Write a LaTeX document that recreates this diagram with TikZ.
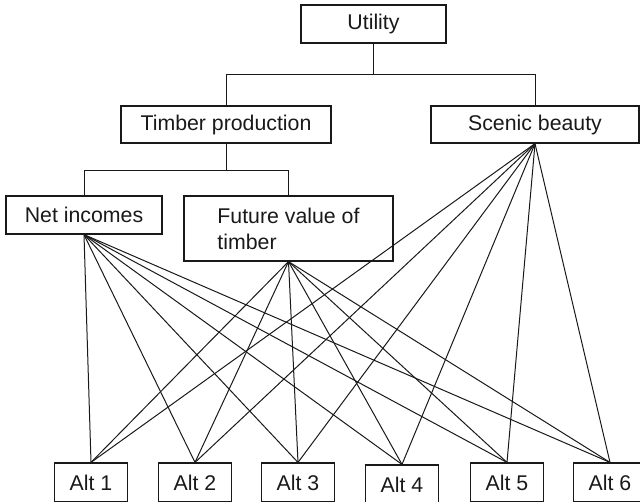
\documentclass[tikz,border=0pt]{standalone}
\usepackage{fontspec}
\setmainfont{Liberation Sans}
\usetikzlibrary{positioning,calc}

\begin{document}
\begin{tikzpicture}[x=1pt,y=-1pt,
    box/.style={draw=black!90,line width=1.2pt,inner sep=0pt,text=black!90,
        font=\fontsize{21.3}{26}\selectfont},
    link/.style={draw=black!90,line width=1pt}]
                \useasboundingbox (0,0) rectangle (640,501);

                % Top levels
                \node[box,minimum width=145,minimum height=38] (util) at (373.5,24) {Utility};
                \node[box,minimum width=210,minimum height=37] (tp) at (226,124.5) {Timber production};
                \node[box,minimum width=208,minimum height=37] (sb) at (535,124.5) {Scenic beauty};
                \node[box,minimum width=156,minimum height=38] (ni) at (84,215) {Net incomes};
                \node[box,minimum width=209,minimum height=65,align=left] (fv) at (288.5,228.5) {Future value of\\timber};

                % Bus heights
                \coordinate (bus1) at (0,74);
                \coordinate (bus2) at (0,170);

                % Alternatives
                \node[box,minimum width=73,minimum height=39] (alt1) at (91,482.5) {Alt 1};
                \node[box,minimum width=73,minimum height=39] (alt2) at (195,482.5) {Alt 2};
                \node[box,minimum width=73,minimum height=39] (alt3) at (298,482.5) {Alt 3};
                \node[box,minimum width=73,minimum height=39] (alt4) at (402,484.5) {Alt 4};
                \node[box,minimum width=73,minimum height=39] (alt5) at (507,482.5) {Alt 5};
                \node[box,minimum width=73,minimum height=39] (alt6) at (610,482.5) {Alt 6};

                % Tree
                \draw[link] (util) -- (util |- bus1) -| (tp);
                \draw[link] (util |- bus1) -| (sb);
                \draw[link] (tp) -- (tp |- bus2) -| (ni);
                \draw[link] (tp |- bus2) -| (fv);

                % Net incomes arcs
                \draw[link] (ni.south) -- (alt1.north);
                \draw[link] (ni.south) -- (alt2.north);
                \draw[link] (ni.south) -- (alt3.north);
                \draw[link] (ni.south) -- (alt4.north);
                \draw[link] (ni.south) -- (alt5.north);
                \draw[link] (ni.south) -- (alt6.north);

                % Future value arcs
                \draw[link] (fv.south) -- (alt1.north);
                \draw[link] (fv.south) -- (alt2.north);
                \draw[link] (fv.south) -- (alt3.north);
                \draw[link] (fv.south) -- (alt4.north);
                \draw[link] (fv.south) -- (alt5.north);
                \draw[link] (fv.south) -- (alt6.north);

                % Scenic beauty arcs
                \draw[link] (sb.south) -- (alt1.north);
                \draw[link] (sb.south) -- (alt2.north);
                \draw[link] (sb.south) -- (alt3.north);
                \draw[link] (sb.south) -- (alt4.north);
                \draw[link] (sb.south) -- (alt5.north);
                \draw[link] (sb.south) -- (alt6.north);

            \end{tikzpicture}
\end{document}
